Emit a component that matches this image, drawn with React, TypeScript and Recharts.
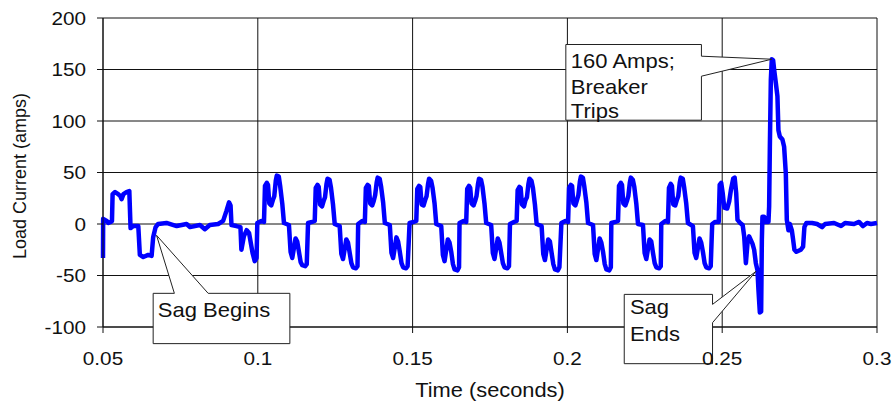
import {
  LineChart,
  Line,
  XAxis,
  YAxis,
  CartesianGrid,
  ReferenceDot,
  Label,
} from "recharts"

const FONT = '"Liberation Sans", Arial, sans-serif'
const INK = "#111"

// load current samples: [time in seconds, amps]
const PRE_SAG: [number, number][] = [
  [0.05, -33], [0.05005, 5], [0.0512, 3], [0.0517, 1], [0.0525, 2], [0.0529, 3],
  [0.0531, 29], [0.0539, 31], [0.0549, 29], [0.0556, 27], [0.056, 24], [0.0566, 29],
  [0.0576, 31], [0.0585, 32], [0.0589, -4], [0.0598, -2], [0.0614, -2], [0.0619, -30],
  [0.063, -32], [0.0646, -30], [0.0657, -31], [0.0662, -13], [0.067, -3], [0.0678, 0],
  [0.0705, 1], [0.0738, -2], [0.077, 0], [0.0781, -3], [0.0813, -1], [0.0829, -5],
  [0.0845, -1], [0.0872, 0], [0.0888, 3], [0.0899, 13], [0.0907, 21], [0.0912, 18],
  [0.0915, -1], [0.0931, -2], [0.0944, -3], [0.0947, -25], [0.0955, -12], [0.0964, -6],
  [0.0972, -9], [0.0983, -28], [0.099, -36], [0.0996, -33],
]

const SAG_CYCLES_A: [number, number][] = [
  [0.09984, 1], [0.10113, 3], [0.102, 2], [0.10232, 37], [0.1029, 40], [0.10329, 38],
  [0.10371, 20], [0.10436, 18], [0.10484, 23], [0.10532, 27], [0.10581, 42], [0.10613, 47],
  [0.10678, 46], [0.10726, 36], [0.1079, 20], [0.10845, 1], [0.11006, -1], [0.11059, -27],
  [0.11113, -33], [0.11219, -14], [0.11274, -17], [0.11329, -27], [0.11384, -37], [0.11436, -40],
  [0.11532, -41], [0.11581, -39],

  [0.11623, 1], [0.11752, 2], [0.11839, 3], [0.11871, 35], [0.11929, 38], [0.11968, 36],
  [0.1201, 19], [0.12075, 17], [0.12123, 22], [0.12171, 26], [0.1222, 39], [0.12252, 44],
  [0.12317, 43], [0.12365, 35], [0.12429, 19], [0.12484, 0], [0.12645, -2], [0.12698, -29],
  [0.12752, -34], [0.12858, -15], [0.12913, -18], [0.12968, -28], [0.13023, -38], [0.13075, -42],
  [0.13171, -43], [0.1322, -41],

  [0.13242, 0], [0.13371, 3], [0.13458, 2], [0.1349, 35], [0.13548, 38], [0.13587, 37],
  [0.13629, 20], [0.13694, 18], [0.13742, 22], [0.1379, 28], [0.13839, 40], [0.13871, 45],
  [0.13936, 44], [0.13984, 36], [0.14048, 21], [0.14103, 1], [0.14264, -1], [0.14317, -28],
  [0.14371, -33], [0.14477, -13], [0.14532, -17], [0.14587, -27], [0.14642, -38], [0.14694, -42],
  [0.1479, -43], [0.14839, -41],

  [0.14903, 1], [0.15032, 2], [0.15119, 3], [0.15151, 34], [0.15209, 37], [0.15248, 36],
  [0.1529, 19], [0.15355, 18], [0.15403, 23], [0.15451, 27], [0.155, 39], [0.15532, 44],
  [0.15597, 42], [0.15645, 35], [0.15709, 20], [0.15764, 0], [0.15925, -2], [0.15978, -30],
  [0.16032, -36], [0.16138, -15], [0.16193, -18], [0.16248, -27], [0.16303, -39], [0.16355, -44],
  [0.16451, -45], [0.165, -42],

  [0.16516, 1], [0.16645, 3], [0.16732, 2], [0.16764, 34], [0.16822, 37], [0.16861, 35],
  [0.16903, 20], [0.16968, 18], [0.17016, 22], [0.17064, 27], [0.17113, 39], [0.17145, 44],
  [0.1721, 43], [0.17258, 36], [0.17322, 20], [0.17377, 1], [0.17538, -1], [0.17591, -28],
  [0.17645, -34], [0.17751, -14], [0.17806, -18], [0.17861, -28], [0.17916, -38], [0.17968, -42],
  [0.18064, -43], [0.18113, -41],
]

const SAG_CYCLES_B: [number, number][] = [
  [0.18145, 0], [0.18274, 2], [0.18361, 3], [0.18393, 33], [0.18451, 36], [0.1849, 35],
  [0.18532, 19], [0.18597, 17], [0.18645, 23], [0.18693, 26], [0.18742, 39], [0.18774, 44],
  [0.18839, 42], [0.18887, 35], [0.18951, 19], [0.19006, 0], [0.19167, -2], [0.1922, -29],
  [0.19274, -35], [0.1938, -15], [0.19435, -17], [0.1949, -28], [0.19545, -39], [0.19597, -44],
  [0.19693, -45], [0.19742, -42],

  [0.19806, 1], [0.19935, 3], [0.20022, 2], [0.20054, 35], [0.20112, 38], [0.20151, 37],
  [0.20193, 20], [0.20258, 18], [0.20306, 23], [0.20354, 28], [0.20403, 41], [0.20435, 46],
  [0.205, 45], [0.20548, 36], [0.20612, 21], [0.20667, 1], [0.20828, -1], [0.20881, -29],
  [0.20935, -35], [0.21041, -14], [0.21096, -18], [0.21151, -27], [0.21206, -39], [0.21258, -44],
  [0.21354, -45], [0.21403, -42],

  [0.21419, 1], [0.21548, 2], [0.21635, 3], [0.21667, 37], [0.21725, 40], [0.21764, 38],
  [0.21806, 20], [0.21871, 18], [0.21919, 22], [0.21967, 27], [0.22016, 40], [0.22048, 45],
  [0.22113, 43], [0.22161, 36], [0.22225, 20], [0.2228, 0], [0.22441, -1], [0.22494, -28],
  [0.22548, -34], [0.22654, -15], [0.22709, -17], [0.22764, -28], [0.22819, -38], [0.22871, -42],
  [0.22967, -43], [0.23016, -41],

  [0.23032, 0], [0.23161, 3], [0.23248, 2], [0.2328, 35], [0.23338, 39], [0.23377, 37],
  [0.23419, 19], [0.23484, 18], [0.23532, 23], [0.2358, 27], [0.23629, 40], [0.23661, 45],
  [0.23726, 44], [0.23774, 35], [0.23838, 20], [0.23893, 1], [0.24054, -2], [0.24107, -28],
  [0.24161, -33], [0.24267, -14], [0.24322, -18], [0.24377, -27], [0.24432, -38], [0.24484, -42],
  [0.2458, -43], [0.24629, -41],
]

// last cycle, voltage recovery and the inrush that trips the breaker
const RECOVERY: [number, number][] = [
  [0.24677, 0], [0.24774, 2], [0.24887, 2], [0.24919, 38], [0.24968, 40], [0.25016, 30],
  [0.25065, 16], [0.25161, 15], [0.25226, 22], [0.25281, 33], [0.25355, 44], [0.25403, 45],
  [0.25452, 30], [0.25494, 4], [0.25581, 1], [0.25661, -1], [0.2571, -12], [0.25765, -38],
  [0.25816, -19], [0.25871, -12], [0.25977, -19], [0.26032, -25], [0.26087, -38], [0.26139, -45],
  [0.26171, -64], [0.26216, -86], [0.26258, -85], [0.26281, -15], [0.263, 7], [0.26355, 7],
  [0.2641, 2], [0.26494, 2], [0.26516, 17], [0.26539, 74], [0.26571, 140], [0.26603, 160],
  [0.26645, 159], [0.26677, 150], [0.26732, 137], [0.26784, 124], [0.26816, 91], [0.26861, 85],
  [0.26945, 82], [0.27, 75], [0.27055, 49], [0.27087, 4], [0.27139, -6], [0.27184, 0],
  [0.27248, -6], [0.2729, -15], [0.27332, -25], [0.27397, -27], [0.27539, -25], [0.27613, -22],
  [0.27655, -3], [0.27719, 1],
]

const AFTER_TRIP: [number, number][] = [
  [0.27903, 1], [0.28065, 0], [0.28226, -3], [0.28323, 0], [0.28613, 1], [0.28839, -2],
  [0.28968, 1], [0.29258, 0], [0.29419, 2], [0.29548, -2], [0.29677, 1], [0.29806, 0],
  [0.3, 1],
]

const X_TICKS = [0.05, 0.1, 0.15, 0.2, 0.25, 0.3]
const Y_TICKS = [-100, -50, 0, 50, 100, 150, 200]

// annotation anchor points [seconds, amps]
const SAG_BEGINS_AT: [number, number] = [0.0673, -11]
const SAG_ENDS_AT: [number, number] = [0.2609, -46]
const TRIP_PEAK_AT: [number, number] = [0.26603, 160]

const data = [...PRE_SAG, ...SAG_CYCLES_A, ...SAG_CYCLES_B, ...RECOVERY, ...AFTER_TRIP].map(
  ([t, amps]) => ({ t, amps })
)

interface CalloutSpec {
  outline: [number, number][]
  lines: string[]
  textX: number
  textY: number[]
}

// outlines are relative to the anchor point, wedge included
const SAG_BEGINS_BOX: CalloutSpec = {
  outline: [[-3.4, 58], [17.8, 58], [0, 0], [51.6, 58], [133.3, 58], [133.3, 108.3], [-3.4, 108.3]],
  lines: ["Sag Begins"],
  textX: 1.3,
  textY: [81.7],
}

const SAG_ENDS_BOX: CalloutSpec = {
  outline: [[-131.7, 23], [-43.4, 23], [-43.4, 33], [0, 0], [-43.4, 51.3], [-43.4, 92.3], [-131.7, 92.3]],
  lines: ["Sag", "Ends"],
  textX: -126,
  textY: [43, 69.7],
}

const TRIP_BOX: CalloutSpec = {
  outline: [[-206, -14.7], [-70.4, -14.7], [-70.4, -3], [0, 0], [-70.4, 17], [-70.4, 61], [-206, 61]],
  lines: ["160 Amps;", "Breaker", "Trips"],
  textX: -201,
  textY: [8.7, 34.7, 58.7],
}

const Callout = ({ cx, cy, spec }: { cx: number; cy: number; spec: CalloutSpec }) => {
  const d =
    spec.outline.map(([dx, dy], i) => `${i ? "L" : "M"}${cx + dx},${cy + dy}`).join(" ") + " Z"
  return (
    <g>
      <path d={d} fill="#fff" stroke="#222" strokeWidth={1} />
      {spec.lines.map((line, i) => (
        <text
          key={line}
          transform={`translate(${cx + spec.textX},${cy + spec.textY[i]}) scale(1.1,1)`}
          fontSize={20}
          fontFamily={FONT}
          fill={INK}
        >
          {line}
        </text>
      ))}
    </g>
  )
}

const XTick = ({ x, y, payload }: any) => (
  <text
    transform={`translate(${x},${y}) scale(1.12,1)`}
    textAnchor="middle"
    dy="0.71em"
    fontSize={18.5}
    fontFamily={FONT}
    fill={INK}
  >
    {payload.value}
  </text>
)

const YTick = ({ x, y, payload }: any) => (
  <text
    transform={`translate(${x},${y}) scale(1.12,1)`}
    textAnchor="end"
    dy="0.355em"
    fontSize={18.5}
    fontFamily={FONT}
    fill={INK}
  >
    {payload.value}
  </text>
)

export default function App() {
  return (
    <div style={{ position: "absolute", left: 0, top: 0, background: "#fff" }}>
      <LineChart
        width={893}
        height={405}
        data={data}
        margin={{ top: 18, right: 16, bottom: 48, left: 0 }}
      >
        <CartesianGrid stroke="#111" strokeWidth={1} />
        <XAxis
          dataKey="t"
          type="number"
          domain={[0.05, 0.3]}
          ticks={X_TICKS}
          height={30}
          stroke="#111"
          tickSize={6}
          tickMargin={19}
          tick={<XTick />}
        >
          <Label
            content={() => (
              <text
                transform="translate(490,397) scale(1.12,1)"
                textAnchor="middle"
                fontSize={19.5}
                fontFamily={FONT}
                fill={INK}
              >
                Time (seconds)
              </text>
            )}
          />
        </XAxis>
        <YAxis
          type="number"
          domain={[-100, 200]}
          ticks={Y_TICKS}
          width={103}
          stroke="#111"
          tickSize={6}
          tickMargin={11}
          tick={<YTick />}
        >
          <Label
            content={() => (
              <text
                transform="translate(20,176) rotate(-90)"
                textAnchor="middle"
                dy="0.35em"
                fontSize={18}
                fontFamily={FONT}
                fill={INK}
              >
                Load Current (amps)
              </text>
            )}
          />
        </YAxis>
        <Line
          type="linear"
          dataKey="amps"
          stroke="#0000ff"
          strokeWidth={4.5}
          strokeLinejoin="round"
          dot={false}
          activeDot={false}
          isAnimationActive={false}
        />
        <ReferenceDot
          x={SAG_BEGINS_AT[0]}
          y={SAG_BEGINS_AT[1]}
          r={0}
          shape={(p: any) => <Callout cx={p.cx} cy={p.cy} spec={SAG_BEGINS_BOX} />}
        />
        <ReferenceDot
          x={SAG_ENDS_AT[0]}
          y={SAG_ENDS_AT[1]}
          r={0}
          shape={(p: any) => <Callout cx={p.cx} cy={p.cy} spec={SAG_ENDS_BOX} />}
        />
        <ReferenceDot
          x={TRIP_PEAK_AT[0]}
          y={TRIP_PEAK_AT[1]}
          r={0}
          shape={(p: any) => <Callout cx={p.cx} cy={p.cy} spec={TRIP_BOX} />}
        />
      </LineChart>
    </div>
  )
}
